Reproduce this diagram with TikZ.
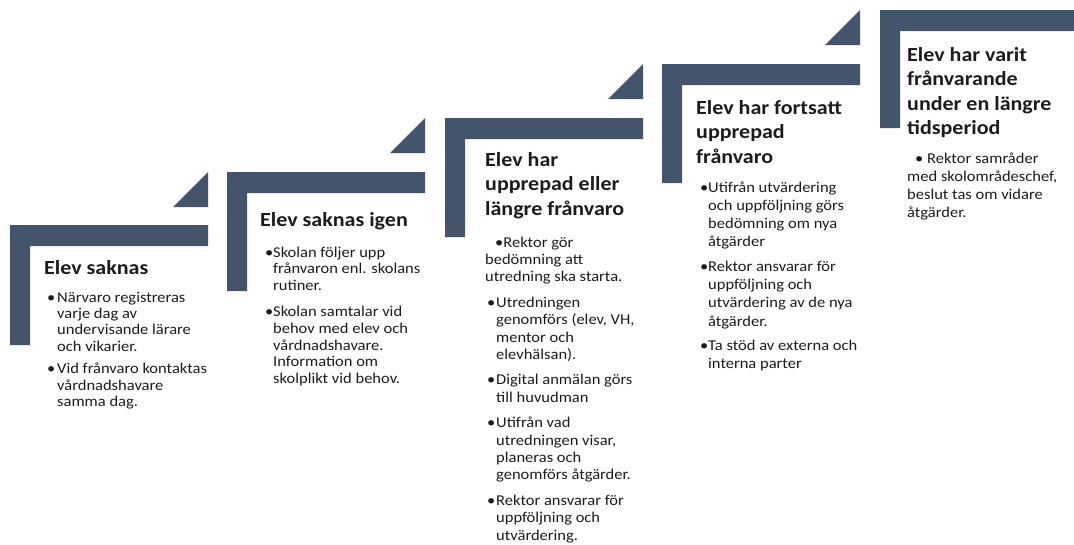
\documentclass[tikz,border=0pt]{standalone}
\usepackage{fontspec}
\setmainfont{Carlito}[FakeStretch=1.1]
\definecolor{slate}{HTML}{44546A}
\definecolor{txt}{HTML}{1C1C1C}
\newcommand\bul[1][9pt]{\makebox[#1][l]{\textbullet}}
\newcommand\full[1]{\multicolumn{2}{@{}l@{}}{#1}}
\newcommand\tblock[2]{{\fontsize{15}{#1}\selectfont\begin{tabular}[t]{@{}l@{}l@{}}#2\end{tabular}}}
\newcommand\ttl[1]{\parbox[t]{240pt}{\fontsize{20}{24.5}\selectfont\bfseries#1}}
\tikzset{
  barshape/.style={fill=slate},
  titletext/.style={anchor=base west, inner sep=0pt, text=txt},
  bodytext/.style={anchor=base west, inner sep=0pt, text=txt}
}
\begin{document}
\begin{tikzpicture}[x=1pt,y=-1pt]
\useasboundingbox (0,0) rectangle (1074,544);
% step shapes
\fill[barshape] (10,225) -- (208,225) -- (208,246) -- (30,246) -- (30,345) -- (10,345) -- cycle;
\fill[barshape] (173,207) -- (208,207) -- (208,172) -- cycle;
\fill[barshape] (227,172) -- (425,172) -- (425,193) -- (247,193) -- (247,291) -- (227,291) -- cycle;
\fill[barshape] (390,153) -- (425,153) -- (425,118) -- cycle;
\fill[barshape] (445,118) -- (643,118) -- (643,139) -- (465,139) -- (465,237) -- (445,237) -- cycle;
\fill[barshape] (608,99) -- (643,99) -- (643,64) -- cycle;
\fill[barshape] (662,64) -- (860,64) -- (860,85) -- (682,85) -- (682,183) -- (662,183) -- cycle;
\fill[barshape] (825,45) -- (860,45) -- (860,10) -- cycle;
\fill[barshape] (880,10) -- (1074,10) -- (1074,31) -- (900,31) -- (900,128) -- (880,128) -- cycle;
% titles
\node[titletext] (t1) at (44,274) {\ttl{Elev saknas}};
\node[titletext] (t2) at (260,226) {\ttl{Elev saknas igen}};
\node[titletext] (t3) at (485,166) {\ttl{Elev har\newline upprepad eller\newline längre frånvaro}};
\node[titletext] (t4) at (696,114) {\ttl{Elev har fortsatt\newline upprepad\newline frånvaro}};
\node[titletext] (t5) at (907,61) {\ttl{Elev har varit\newline frånvarande\newline under en längre\newline tidsperiod}};
% bodies
\node[bodytext] (b1) at (47,302) {\tblock{16.4pt}{%
\bul[10pt] & Närvaro registreras\\ & varje dag av\\ & undervisande lärare\\ & och vikarier.\\[6pt]
\bul[10pt] & Vid frånvaro kontaktas\\ & vårdnadshavare\\ & samma dag.}};
\node[bodytext] (b2) at (265,257) {\tblock{16.8pt}{%
\bul[8pt] & Skolan följer upp\\ & frånvaron enl. skolans\\ & rutiner.\\[9pt]
\bul[8pt] & Skolan samtalar vid\\ & behov med elev och\\ & vårdnadshavare.\\ & Information om\\ & skolplikt vid behov.}};
\node[bodytext] (b3) at (485,247) {\tblock{17.4pt}{%
\full{\hspace*{10pt}\textbullet Rektor gör}\\ \full{bedömning att}\\ \full{utredning ska starta.}\\[8pt]
\hspace*{2pt}\bul[9pt] & Utredningen\\ & genomförs (elev, VH,\\ & mentor och\\ & elevhälsan).\\[8pt]
\hspace*{2pt}\bul[9pt] & Digital anmälan görs\\ & till huvudman\\[8pt]
\hspace*{2pt}\bul[9pt] & Utifrån vad\\ & utredningen visar,\\ & planeras och\\ & genomförs åtgärder.\\[8pt]
\hspace*{2pt}\bul[9pt] & Rektor ansvarar för\\ & uppföljning och\\ & utvärdering.}};
\node[bodytext] (b4) at (700,192) {\tblock{18.3pt}{%
\bul[8pt] & Utifrån utvärdering\\ & och uppföljning görs\\ & bedömning om nya\\ & åtgärder\\[6pt]
\bul[8pt] & Rektor ansvarar för\\ & uppföljning och\\ & utvärdering av de nya\\ & åtgärder.\\[6pt]
\bul[8pt] & Ta stöd av externa och\\ & interna parter}};
\node[bodytext] (b5) at (907,163) {\tblock{18.3pt}{%
\full{\hspace*{8pt}\textbullet\ Rektor samråder}\\ \full{med skolområdeschef,}\\ \full{beslut tas om vidare}\\ \full{åtgärder.}}};
\end{tikzpicture}
\end{document}
